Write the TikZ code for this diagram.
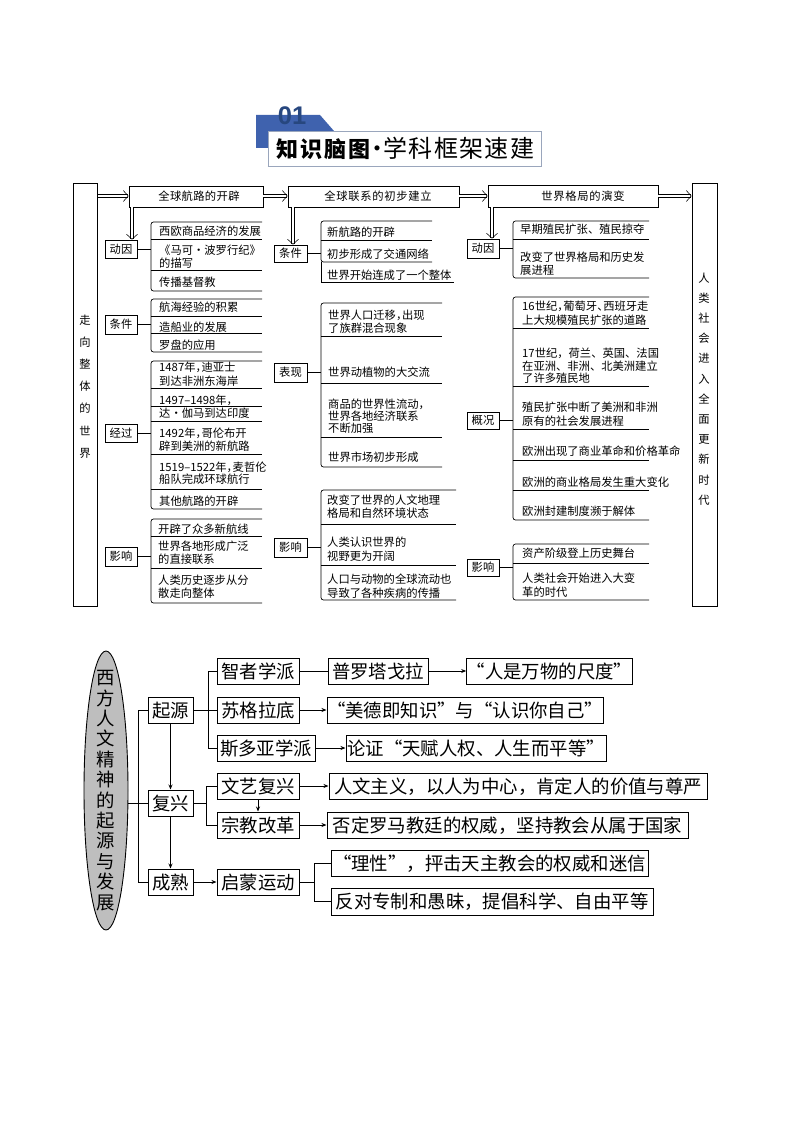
\documentclass[tikz,border=0pt]{standalone}
\usepackage{fontspec}
\setmainfont{Noto Sans CJK SC}
\newfontfamily\numfont{Liberation Sans}
\usetikzlibrary{arrows.meta,shapes.geometric,calc}
\definecolor{tblue}{HTML}{3F62AE}
\definecolor{tnum}{HTML}{27477F}
\definecolor{tedge}{HTML}{9AA6BC}
\definecolor{egray}{HTML}{BEBEBE}
\newcounter{tn}
\newcommand\smfs{\fontsize{11.3}{13}\selectfont}
\newcommand\bigfs{\fontsize{18.4}{21}\selectfont}
\newcommand\cm{\makebox[6pt][l]{，}}
\newcommand\dn{\makebox[6pt][l]{、}}
\newcommand\zd{\makebox[1em]{·}}
% small left-aligned text line
\newcommand\T[3]{\stepcounter{tn}\node[lab] (txt\arabic{tn}) at (#1,#2) {#3};}
% rectangle box by corners
\newcommand\B[7][bx]{\node[#1,minimum width={#5-#3},minimum height={#6-#4}] (#2) at ({(#3+#5)/2},{(#4+#6)/2}) {#7};}
% bracket with separators
\newcommand\G[5]{\draw[rule,rounded corners=2.5pt] (#2,#3) -- (#1,#3) -- (#1,#4) -- (#2,#4);
  \foreach \yy in {#5} {\draw[rule] (#1,\yy) -- (#2,\yy);}}
\tikzset{
  lab/.style={anchor=west,inner sep=0pt,text height=10pt,text depth=1.4pt,font=\smfs},
  ttl/.style={anchor=west,inner sep=0pt,text height=20pt,text depth=3pt},
  bx/.style={draw,line width=.75pt,inner sep=0pt,font=\smfs},
  tag/.style={bx,line width=.8pt},
  big/.style={draw,line width=1pt,inner sep=0pt,font=\bigfs,text height=16.2pt,text depth=2.2pt},
  rule/.style={line width=.7pt},
  dbl/.style={double,double distance=2pt,line width=.55pt,-{Straight Barb[length=5pt,width=11pt,line width=.55pt]}},
  link/.style={line width=.9pt},
  arr/.style={link,-{Stealth[length=5pt,width=4pt]}}
}
\begin{document}
\begin{tikzpicture}[x=1pt,y=-1pt]
\useasboundingbox (0,0) rectangle (794,1123);
% ---------- title
\fill[tblue] (256,148) -- (256,115) -- (320,115) -- (334,131) -- (334,148) -- cycle;
\node[inner sep=0pt,text=tnum,font=\numfont\bfseries\fontsize{25.5}{28}\selectfont] (num) at (292,116) {01};
\B[draw=tedge,fill=white,line width=.8pt,inner sep=0pt]{titlebox}{268}{131}{541}{166}{}
\draw[tedge,line width=1.3pt] (titlebox.south west) -- (titlebox.south east);
\node[ttl,font=\bfseries\fontsize{22}{26}\selectfont] (tt1) at (276,149.5) {\addfontfeature{LetterSpace=9}知识脑图};
\node[ttl,font=\fontsize{24}{26}\selectfont] (tt2) at (371,149.5) {\makebox[12pt]{·}\addfontfeature{LetterSpace=6}学科框架速建};
% ---------- upper frame
\B{lb}{73}{183}{97.5}{606}{}
\B{rb}{692}{183}{717}{606}{}
\node[inner sep=0pt,align=center,font=\fontsize{11.3}{22.2}\selectfont] (ltext) at (85,386.5) {走\\向\\整\\体\\的\\世\\界};
\node[inner sep=0pt,align=center,font=\fontsize{11.3}{20.2}\selectfont] (rtext) at (704,389) {人\\类\\社\\会\\进\\入\\全\\面\\更\\新\\时\\代};
\B{h1}{129}{186}{263}{207}{\hspace*{6pt}\addfontfeature{LetterSpace=3}全球航路的开辟}
\B{h2}{288}{186}{459}{207}{\hspace*{9pt}\addfontfeature{LetterSpace=6}全球联系的初步建立}
\B{h3}{488}{185}{658}{207}{\hspace*{20pt}\addfontfeature{LetterSpace=6}世界格局的演变}
\coordinate (m) at (0,196);
\draw[dbl] (lb.east |- m) -- (h1.west |- m);
\draw[dbl] (h1.east |- m) -- (h2.west |- m);
\draw[dbl] (h2.east |- m) -- (h3.west |- m);
\draw[dbl] (h3.east |- m) -- (rb.west |- m);
% tags
\B[tag]{a1}{105}{240}{137}{258}{动因}
\B[tag]{a2}{105}{315}{137}{334}{条件}
\B[tag]{a3}{105}{424}{137}{442}{经过}
\B[tag]{a4}{105}{547}{137}{566}{影响}
\B[tag]{b1}{274}{245}{307}{262}{条件}
\B[tag]{b2}{274}{363}{307}{382}{表现}
\B[tag]{b3}{274}{538}{307}{557}{影响}
\B[tag]{c1}{467}{239}{499}{258}{动因}
\B[tag]{c2}{467}{412}{499}{429}{概况}
\B[tag]{c3}{467}{559}{499}{576}{影响}
\coordinate (xa) at (132,0); \coordinate (xb) at (293,0); \coordinate (xc) at (492,0);
\draw[dbl] (h1.south -| xa) -- (a1.north -| xa);
\draw[dbl] (h2.south -| xb) -- (b1.north -| xb);
\draw[dbl] (h3.south -| xc) -- (c1.north -| xc);
\coordinate (ba) at (151,0); \coordinate (bb) at (321,0); \coordinate (bc) at (513,0);
\foreach \n in {a1,a2,a3,a4} {\draw[rule] (\n.east) -- (\n.east -| ba);}
\foreach \n in {b1,b2,b3} {\draw[rule] (\n.east) -- (\n.east -| bb);}
\foreach \n in {c1,c2,c3} {\draw[rule] (\n.east) -- (\n.east -| bc);}
% column 1
\G{151}{262}{222}{291}{239,270}
\T{159}{231}{西欧商品经济的发展}
\T{159}{250}{《马可\zd 波罗行纪》}
\T{159}{263}{的描写}
\T{159}{282}{传播基督教}
\G{151}{262}{299}{352}{316,333}
\T{159}{307}{航海经验的积累}
\T{159}{327}{造船业的发展}
\T{159}{345}{罗盘的应用}
\G{151}{262}{361}{509}{388,406,421,454,489}
\T{159}{367}{1487年\cm 迪亚士}
\T{159}{381}{到达非洲东海岸}
\T{159}{400}{1497–1498年\cm}
\T{159}{413}{达\zd 伽马到达印度}
\T{159}{433}{1492年\cm 哥伦布开}
\T{159}{446}{辟到美洲的新航路}
\T{159}{467}{1519–1522年\cm 麦哲伦}
\T{159}{479}{船队完成环球航行}
\T{159}{501}{其他航路的开辟}
\G{151}{262}{519}{603}{536,568}
\T{158}{529}{开辟了众多新航线}
\T{158}{546}{世界各地形成广泛}
\T{158}{559}{的直接联系}
\T{158}{580}{人类历史逐步从分}
\T{158}{593}{散走向整体}
% column 2
\G{321}{432}{221}{262}{240}
\draw[rule] (321,282) -- (454,282);
\draw[rule] (321,262) -- (321,282);
\T{327}{232}{新航路的开辟}
\T{327}{254}{初步形成了交通网络}
\T{327}{275}{世界开始连成了一个整体}
\G{321}{442}{303}{467}{336,383,437}
\T{328}{315}{世界人口迁移\cm 出现}
\T{328}{328}{了族群混合现象}
\T{328}{372}{世界动植物的大交流}
\T{328}{404}{商品的世界性流动，}
\T{328}{416}{世界各地经济联系}
\T{328}{428}{不断加强}
\T{328}{457}{世界市场初步形成}
\G{321}{456}{490}{600}{524,565}
\T{327}{500}{改变了世界的人文地理}
\T{327}{513}{格局和自然环境状态}
\T{327}{542}{人类认识世界的}
\T{327}{556}{视野更为开阔}
\T{327}{579}{人口与动物的全球流动也}
\T{327}{593}{导致了各种疾病的传播}
% column 3
\G{513}{649}{221}{278}{239}
\T{520}{229}{早期殖民扩张、殖民掠夺}
\T{520}{257}{改变了世界格局和历史发}
\T{520}{270}{展进程}
\G{513}{649}{297}{520}{328,386,429,460,490}
\T{522}{306}{16世纪\cm 葡萄牙\dn 西班牙走}
\T{522}{320}{上大规模殖民扩张的道路}
\T{522}{353}{17世纪，荷兰、英国、法国}
\T{522}{366}{在亚洲、非洲、北美洲建立}
\T{522}{378}{了许多殖民地}
\T{522}{407}{殖民扩张中断了美洲和非洲}
\T{522}{421}{原有的社会发展进程}
\T{522}{451}{欧洲出现了商业革命和价格革命}
\T{522}{482}{欧洲的商业格局发生重大变化}
\T{522}{511}{欧洲封建制度濒于解体}
\G{513}{649}{544}{600}{563}
\T{522}{553}{资产阶级登上历史舞台}
\T{522}{578}{人类社会开始进入大变}
\T{522}{592}{革的时代}
% ---------- lower diagram
\node[draw,fill=egray,line width=.9pt,ellipse,inner sep=0pt,minimum width=44pt,minimum height=279pt] (el) at (106,790.5) {};
\node[inner sep=0pt,align=center,font=\fontsize{18.4}{20.4}\selectfont] (eltext) at (106,790.5) {西\\方\\人\\文\\精\\神\\的\\起\\源\\与\\发\\展};
\B[big]{qy}{148}{697}{193}{723}{起源}
\B[big]{fx}{148}{790}{193}{816}{复兴}
\B[big]{cs}{148}{869}{193}{895}{成熟}
\B[big]{zz}{217}{658}{299}{684}{智者学派}
\B[big]{sg}{217}{697}{299}{723}{苏格拉底}
\B[big]{sd}{217}{735}{315}{761}{斯多亚学派}
\B[big]{wy}{217}{773}{299}{799}{文艺复兴}
\B[big]{zj}{217}{812}{299}{838}{宗教改革}
\B[big]{qm}{217}{869}{299}{895}{启蒙运动}
\B[big]{pl}{328}{658}{428}{684}{普罗塔戈拉}
\B[big]{rs}{470}{658}{629}{684}{“人是万物的尺度”}
\B[big]{md}{329}{697}{601}{723}{“美德即知识”与“认识你自己”}
\B[big]{lz}{346}{735}{606}{761}{论证“天赋人权、人生而平等”}
\B[big]{rw}{329}{773}{707}{799}{人文主义，以人为中心，肯定人的价值与尊严}
\B[big]{fd}{327}{812}{688}{838}{否定罗马教廷的权威，坚持教会从属于国家}
\B[big]{lx}{331}{850}{648}{876}{“理性”，抨击天主教会的权威和迷信}
\B[big]{fz}{331}{888}{653}{915}{反对专制和愚昧，提倡科学、自由平等}
\coordinate (tr0) at (138,0); \coordinate (tr1) at (208,0); \coordinate (tr2) at (206,0); \coordinate (tr3) at (314,0);
\draw[link] (el.east |- fx.west) -- (fx.west);
\draw[link] (qy.west) -- (qy.west -| tr0) -- (cs.west -| tr0) -- (cs.west);
\draw[arr] (qy.south) -- (fx.north);
\draw[arr] (fx.south) -- (cs.north);
\draw[arr] (cs.east) -- (qm.west);
\draw[link] (qy.east) -- (sg.west);
\draw[link] (zz.west) -- (zz.west -| tr1) -- (sd.west -| tr1) -- (sd.west);
\draw[link] (fx.east) -- (fx.east -| tr2);
\draw[link] (wy.west) -- (wy.west -| tr2) -- (zj.west -| tr2) -- (zj.west);
\draw[arr] (wy.south) -- (zj.north);
\draw[link] (zz.east) -- (pl.west);
\draw[arr] (pl.east) -- (rs.west);
\draw[arr] (sg.east) -- (md.west);
\draw[arr] (sd.east) -- (lz.west);
\draw[arr] (wy.east) -- (rw.west);
\draw[arr] (zj.east) -- (fd.west);
\draw[link] (qm.east) -- (qm.east -| tr3);
\draw[link] (lx.west) -- (lx.west -| tr3) -- (fz.west -| tr3) -- (fz.west);
\end{tikzpicture}
\end{document}
